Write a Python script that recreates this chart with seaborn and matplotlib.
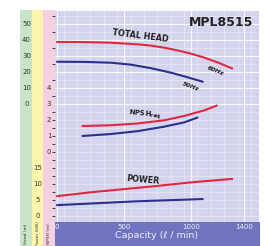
import numpy as np
import pandas as pd
import matplotlib.pyplot as plt
import seaborn as sns
from matplotlib.patches import Rectangle

# Pump curve MPL8515 - head / NPSH / power against capacity

# Total head (m)
head_cap_60 = [0, 200, 400, 600, 700, 800, 900, 1000, 1100, 1200, 1310]
head_60 = [38.8, 38.7, 38.3, 37.3, 36.5, 35.2, 33.5, 31.5, 29.0, 26.0, 22.2]
head_cap_50 = [0, 200, 400, 550, 700, 850, 950, 1090]
head_50 = [26.4, 26.3, 25.8, 24.6, 22.4, 19.6, 17.3, 13.9]

# NPSH required (m)
npsh_cap_60 = [190, 400, 600, 800, 950, 1100, 1195]
npsh_60 = [1.62, 1.67, 1.78, 1.98, 2.25, 2.6, 2.9]
npsh_cap_50 = [190, 400, 600, 800, 950, 1050]
npsh_50 = [1.0, 1.12, 1.3, 1.58, 1.85, 2.15]

# Power (kW)
power_cap_60 = [0, 250, 500, 750, 1000, 1310]
power_60 = [6.2, 7.4, 8.4, 9.4, 10.5, 11.6]
power_cap_50 = [0, 300, 600, 1090]
power_50 = [3.4, 4.0, 4.6, 5.3]

head_ticks = [0, 10, 20, 30, 40, 50]
npsh_ticks = [0, 1, 2, 3, 4]
power_ticks = [0, 5, 10, 15]
cap_ticks = [0, 500, 1000, 1400]

RED = '#e2283e'
BLUE = '#2c2f8c'

sns.set_style("white")
plt.rcParams['font.family'] = ['DejaVu Sans']

W, H = 264, 246
fig = plt.figure(figsize=(W / 100, H / 100), dpi=100)


def box(x0, y0, x1, y1, color):
    fig.add_artist(Rectangle((x0 / W, 1 - y1 / H), (x1 - x0) / W, (y1 - y0) / H,
                             transform=fig.transFigure, color=color, lw=0, zorder=0))


# coloured scale columns and the capacity bar
box(20, 10, 32, 246, '#c8e5c8')
box(32, 10, 43, 246, '#fbf5b0')
box(43, 10, 55, 246, '#f5d0e0')
box(55, 222, 260, 246, '#7173c1')

ax = fig.add_axes([55 / W, 1 - 222 / H, (259 - 55) / W, (222 - 11) / H])
ax.set_facecolor('#d4d4ee')
ax_n = ax.twinx()
ax_p = ax.twinx()

ax.set_xlim(-15, 1510)
ax.set_ylim(-73.75, 58.1)
ax_n.set_ylim(-4.375, 8.81)
ax_p.set_ylim(-1.875, 64.06)

# grid
ax.set_xticks(np.arange(0, 1501, 100))
ax.set_xticks(np.arange(50, 1501, 100), minor=True)
ax.set_yticks(np.arange(-70, 58, 5), minor=True)
ax.grid(which='major', color='white', lw=0.8, alpha=0.85)
ax.grid(which='minor', color='white', lw=0.4, alpha=0.6)
ax.set_xticks(cap_ticks)
ax.set_xticklabels([str(t) for t in cap_ticks])
ax.tick_params(axis='x', length=0, pad=1.5, labelsize=5, labelcolor='#eeeefa')
ax.set_xlabel('Capacity (ℓ / min)', fontsize=6.8, color='#eeeefa', labelpad=1)

for a in (ax, ax_n, ax_p):
    for s in a.spines.values():
        s.set_visible(False)

# head scale in the green column
ax.set_yticks(head_ticks)
ax.tick_params(axis='y', length=0, pad=20.5, labelsize=5, labelcolor='#2a3a2a')
# power scale in the yellow column
ax_p.yaxis.tick_left()
ax_p.set_yticks(power_ticks)
ax_p.tick_params(axis='y', length=0, pad=12.5, labelsize=5, labelcolor='#3a3a20')
# NPSH scale in the pink column
ax_n.yaxis.tick_left()
ax_n.set_yticks(npsh_ticks)
ax_n.tick_params(axis='y', length=0, pad=4.3, labelsize=5, labelcolor='#4a2a3a')
for a in (ax, ax_n, ax_p):
    for lbl in a.get_yticklabels():
        lbl.set_horizontalalignment('center')

lw = 1.5
sns.lineplot(x=head_cap_60, y=head_60, ax=ax, color=RED, lw=lw)
sns.lineplot(x=head_cap_50, y=head_50, ax=ax, color=BLUE, lw=lw)
sns.lineplot(x=npsh_cap_60, y=npsh_60, ax=ax_n, color=RED, lw=lw)
sns.lineplot(x=npsh_cap_50, y=npsh_50, ax=ax_n, color=BLUE, lw=lw)
sns.lineplot(x=power_cap_60, y=power_60, ax=ax_p, color=RED, lw=lw)
sns.lineplot(x=power_cap_50, y=power_50, ax=ax_p, color=BLUE, lw=lw)

txt = dict(color='#222222', fontweight='bold', ha='center', va='center')
ax.text(620, 42.5, 'TOTAL HEAD', fontsize=5.8, rotation=-7, **txt)
ax.text(1187, 20.6, '60Hz', fontsize=4.5, rotation=-22, style='italic', **txt)
ax.text(1000, 10.6, '50Hz', fontsize=4.5, rotation=-20, style='italic', **txt)
ax_n.text(657, 2.3, r'NPSH$_{\mathbf{req}}$', fontsize=5, rotation=-5, **txt)
ax_p.text(642, 11.4, 'POWER', fontsize=5.8, rotation=-5, **txt)

fig.text(221 / W, 1 - 22 / H, 'MPL8515', fontsize=9, fontweight='bold',
         color='#222222', ha='center', va='center')

# rotated unit captions at the foot of the columns
for xc, s in ((26, 'Head (m)'), (38, 'Power (kW)'), (49, 'NPSH (m)')):
    fig.text(xc / W, 1 - 234 / H, s, fontsize=3.2, rotation=90,
             color='#333333', ha='center', va='center')

fig.savefig('out.png', dpi=100)
